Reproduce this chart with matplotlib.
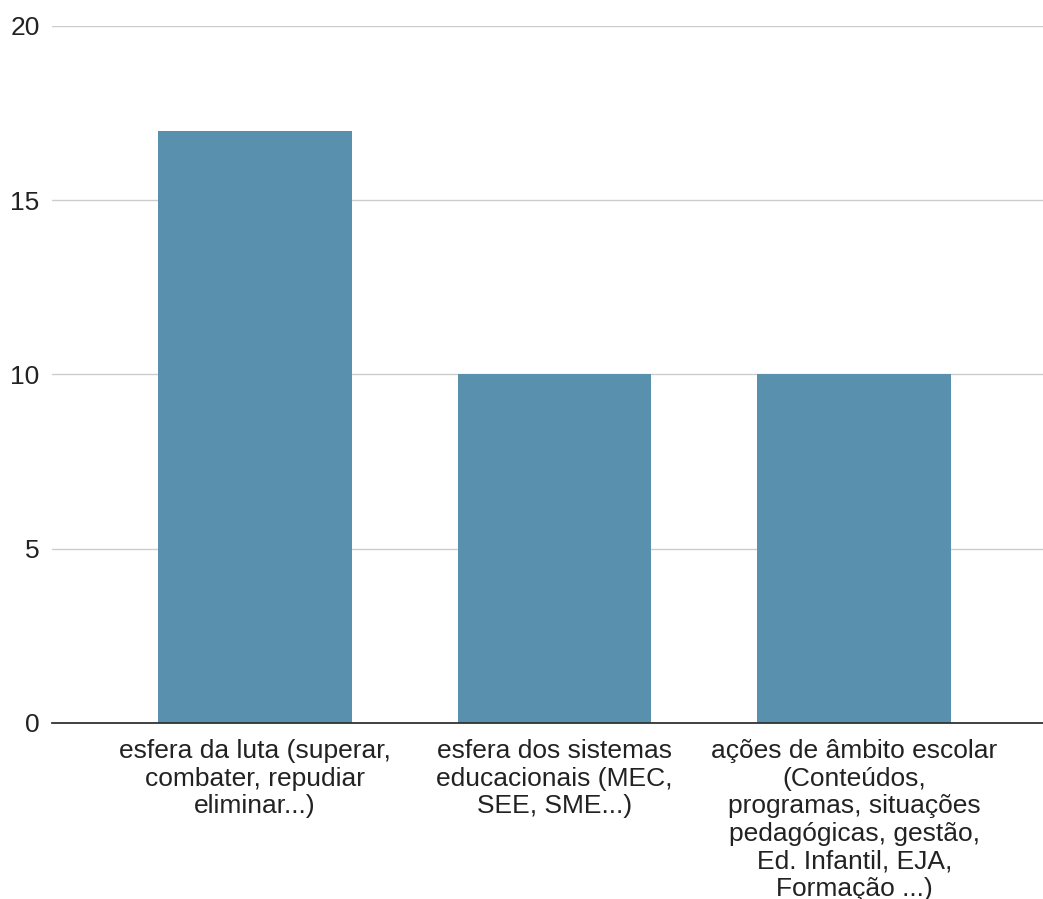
import numpy as np
import matplotlib.pyplot as plt

# Dados do gráfico
categorias = [
    'esfera da luta (superar,\ncombater, repudiar\neliminar...)',
    'esfera dos sistemas\neducacionais (MEC,\nSEE, SME...)',
    'ações de âmbito escolar\n(Conteúdos,\nprogramas, situações\npedagógicas, gestão,\nEd. Infantil, EJA,\nFormação ...)',
]
valores = [17, 10, 10]
yticks = [0, 5, 10, 15, 20]


def main():
    plt.rcParams['font.family'] = ['Liberation Sans', 'DejaVu Sans']
    fig = plt.figure(figsize=(10.43, 8.99), dpi=100)
    ax = fig.add_axes([52 / 1043, 1 - 723 / 899, 1 - 52 / 1043, 697 / 899])

    x = np.arange(len(valores))
    ax.bar(x, valores, width=0.647, color='#5990ad', zorder=2)

    ax.set_ylim(0, 20)
    ax.set_xlim(-0.677, 2.63)
    ax.set_yticks(yticks)
    ax.set_yticklabels([str(v) for v in yticks], fontsize=19, color='#222222')
    ax.set_xticks(x)
    ax.set_xticklabels(categorias, fontsize=19, color='#222222', linespacing=1.19)
    ax.tick_params(axis='both', length=0)
    ax.tick_params(axis='y', pad=9)
    ax.tick_params(axis='x', pad=11.5)

    ax.grid(axis='y', color='#cccccc', linewidth=1, zorder=0)
    for s in ['top', 'right', 'left']:
        ax.spines[s].set_visible(False)
    ax.spines['bottom'].set_color('#333333')
    ax.spines['bottom'].set_linewidth(1.3)
    ax.spines['bottom'].set_zorder(3)

    fig.savefig('out.png', dpi=100)


if __name__ == "__main__":
    main()
